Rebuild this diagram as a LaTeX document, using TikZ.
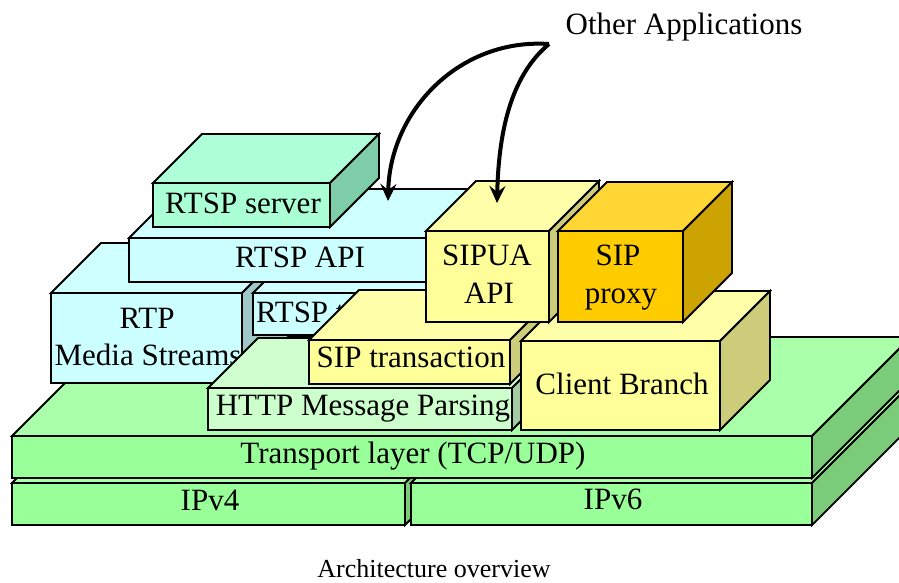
\documentclass[tikz,border=0pt]{standalone}
\usepackage{fontspec}
\setmainfont{Liberation Serif}
\usetikzlibrary{arrows.meta}
\definecolor{mintF}{HTML}{AAFFD5}
\definecolor{mintT}{HTML}{AEFFD8}
\definecolor{mintS}{HTML}{7FCCA8}
\definecolor{cyanF}{HTML}{CCFFFF}
\definecolor{cyanT}{HTML}{CFFFFF}
\definecolor{cyanS}{HTML}{A0C8C8}
\definecolor{yelF}{HTML}{FFFF99}
\definecolor{yelT}{HTML}{FFFFAA}
\definecolor{yelS}{HTML}{CCCC7A}
\definecolor{orF}{HTML}{FFCC00}
\definecolor{orT}{HTML}{FFD633}
\definecolor{orS}{HTML}{CCA300}
\definecolor{paleF}{HTML}{CCFFCC}
\definecolor{paleT}{HTML}{CFFFCF}
\definecolor{paleS}{HTML}{A3CCA3}
\definecolor{grnF}{HTML}{99FF99}
\definecolor{grnT}{HTML}{AAFFAA}
\definecolor{grnS}{HTML}{7ACC7A}
\tikzset{
  face/.style={draw=black, line width=1.8pt, inner sep=0pt, outer sep=0pt},
  lbl/.style={font=\fontsize{31}{37}\selectfont, inner sep=0pt, outer sep=0pt, anchor=base},
  captxt/.style={font=\fontsize{26}{30}\selectfont, inner sep=0pt, outer sep=0pt, anchor=base},
  arr/.style={line width=4pt, -{Stealth[length=17pt,width=16pt,inset=6pt]}},
}
% #1 name, #2 x1, #3 y1, #4 x2, #5 y2, #6 depth, #7 front, #8 top, #9 side
\newcommand{\blockthree}[9]{%
  \node[face, fill=#7, minimum width={(#4-#2)*1pt}, minimum height={(#5-#3)*1pt}, anchor=north west] (#1) at (#2,#3) {};
  \draw[face, fill=#8] (#1.north west) -- ++(#6,-#6) -- ([shift={(#6,-#6)}]#1.north east) -- (#1.north east) -- cycle;
  \draw[face, fill=#9] (#1.north east) -- ++(#6,-#6) -- ([shift={(#6,-#6)}]#1.south east) -- (#1.south east) -- cycle;
}
\begin{document}
\begin{tikzpicture}[x=1pt, y=-1pt]
\useasboundingbox (0,0) rectangle (899,582);
\clip (0,0) rectangle (899,582);
% network layer
\blockthree{ipv4}{12}{483}{405}{525}{100}{grnF}{grnT}{grnS}
\node[lbl] (ipv4T) at (210,510) {IPv4};
\blockthree{ipv6}{411}{483}{812}{525}{100}{grnF}{grnT}{grnS}
\node[lbl] (ipv6T) at (613,509) {IPv6};
% transport
\blockthree{trans}{12}{436}{812}{478}{99}{grnF}{grnT}{grnS}
\node[lbl] (transT) at (413,463) {Transport layer (TCP/UDP)};
% RTP
\blockthree{rtp}{51}{293}{242}{383}{50}{cyanF}{cyanT}{cyanS}
\node[lbl] (rtpT1) at (147,328) {RTP};
\node[lbl] (rtpT2) at (148,365) {Media Streams};
% RTSP transaction
\blockthree{rtspt}{253}{293}{470}{335}{50}{cyanF}{cyanT}{cyanS}
\node[lbl, anchor=base west] (rtsptT) at (256,322) {RTSP transaction};
% HTTP
\blockthree{http}{208}{388}{512}{430}{50}{paleF}{paleT}{paleS}
\node[lbl] (httpT) at (363,415) {HTTP Message Parsing};
% SIP transaction
\blockthree{sipt}{309}{340}{510}{384}{50}{yelF}{yelT}{yelS}
\node[lbl] (siptT) at (411,367) {SIP transaction};
% Client Branch
\blockthree{client}{521}{341}{720}{430}{50}{yelF}{yelT}{yelS}
\node[lbl] (clientT) at (622,394) {Client Branch};
% RTSP API
\blockthree{rtspapi}{129}{238}{470}{282}{49}{cyanF}{cyanT}{cyanS}
\node[lbl] (rtspapiT) at (300,267) {RTSP API};
% SIPUA API
\blockthree{sipua}{426}{231}{549}{322}{50}{yelF}{yelT}{yelS}
\node[lbl] (sipuaT1) at (487,265) {SIPUA};
\node[lbl] (sipuaT2) at (489,303) {API};
% SIP proxy
\blockthree{proxy}{558}{231}{683}{322}{49}{orF}{orT}{orS}
\node[lbl] (proxyT1) at (618,265) {SIP};
\node[lbl] (proxyT2) at (621,303) {proxy};
% RTSP server
\blockthree{server}{153}{183}{330}{227}{49}{mintF}{mintT}{mintS}
\node[lbl] (serverT) at (243,213) {RTSP server};
% other applications and arrows
\node[lbl] (apps) at (684,34) {Other Applications};
\coordinate (appsOut) at (549,44);
\coordinate (apiIn) at (388,201);
\coordinate (uaIn) at (497,203);
\draw[arr] (appsOut) .. controls (460,38) and (390,110) .. (apiIn);
\draw[arr] (appsOut) .. controls (518,70) and (499,115) .. (uaIn);
% caption
\node[captxt] (caption) at (434,577) {Architecture overview};
\end{tikzpicture}
\end{document}
